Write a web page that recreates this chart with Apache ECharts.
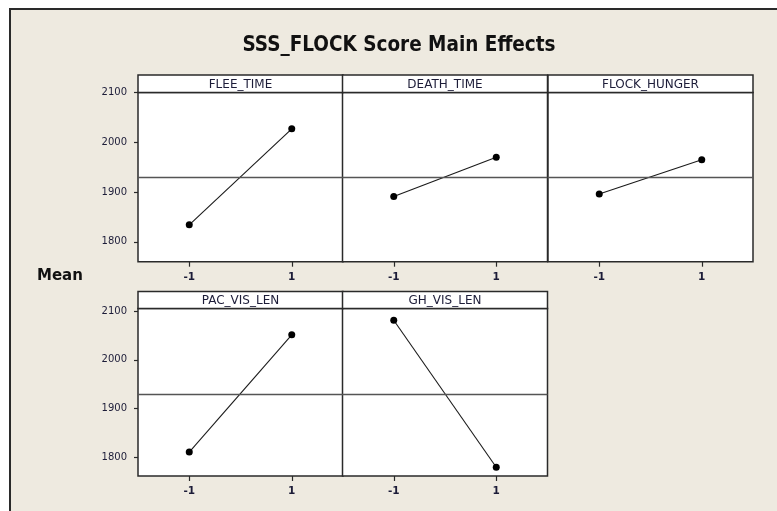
<!DOCTYPE html>
<html>
<head>
<meta charset="utf-8">
<script src="https://cdn.jsdelivr.net/npm/echarts@6/dist/echarts.min.js"></script>
<style>
  html, body { margin: 0; padding: 0; background: #ffffff; }
  #wrap { position: relative; width: 777px; height: 511px; overflow: hidden; }
  #frame { position: absolute; left: 9px; top: 8px; width: 800px; height: 540px;
           background: #eeeae0; border: 2px solid #2a2a2a; }
  #chart { position: absolute; left: 0; top: 0; width: 777px; height: 511px; }
</style>
</head>
<body>
<div id="wrap">
  <div id="frame"></div>
  <div id="chart"></div>
</div>
<script>
// values
const categories = ['-1', '1']
const factors = ['FLEE_TIME', 'DEATH_TIME', 'FLOCK_HUNGER', 'PAC_VIS_LEN', 'GH_VIS_LEN']
const fleeTime = [1834, 2027]
const deathTime = [1891, 1970]
const flockHunger = [1896, 1965]
const pacVisLen = [1811, 2051]
const ghVisLen = [2081, 1780]
const grandMean = 1930
const yTicks = [1800, 1900, 2000, 2100]

const means = [fleeTime, deathTime, flockHunger, pacVisLen, ghVisLen]

// panel layout
const colX = [138, 342.5, 548]
const panelW = 205
const rows = [
  { head: 75, top: 92.5, bottom: 261.7, min: 1760, max: 2100 },
  { head: 291.5, top: 308.5, bottom: 476, min: 1762, max: 2105 }
]
const slots = [[0, 0], [0, 1], [0, 2], [1, 0], [1, 1]]

const textCol = '#1c1c38'
const font = 'DejaVu Sans, Verdana, sans-serif'

const grids = [], xAxes = [], yAxes = [], series = [], graphics = []

slots.forEach(([r, c], i) => {
  const row = rows[r]
  const x = colX[c]
  grids.push({
    left: x, top: row.top, width: panelW, height: row.bottom - row.top,
    show: true, backgroundColor: '#ffffff', borderColor: '#2a2a2a', borderWidth: 1.5,
    containLabel: false
  })
  xAxes.push({
    type: 'category', gridIndex: i, data: categories, boundaryGap: true,
    axisLine: { show: false },
    axisTick: { show: true, alignWithLabel: true, length: 5, lineStyle: { color: '#2a2a2a', width: 1.2 } },
    axisLabel: { color: textCol, fontSize: 10.5, fontWeight: 'bold', fontFamily: font, margin: 10 },
    splitLine: { show: false }
  })
  const first = c === 0
  yAxes.push({
    type: 'value', gridIndex: i, min: row.min, max: row.max,
    show: first,
    axisLine: { show: false },
    axisTick: { show: first, length: 4, customValues: yTicks, lineStyle: { color: '#2a2a2a', width: 1.2 } },
    axisLabel: { show: first, customValues: yTicks, formatter: v => String(v), color: textCol, fontSize: 10, fontFamily: font, margin: 11 },
    splitLine: { show: false }
  })
  series.push({
    type: 'line', xAxisIndex: i, yAxisIndex: i, data: means[i],
    symbol: 'circle', symbolSize: 7,
    itemStyle: { color: '#000000' },
    lineStyle: { color: '#1a1a1a', width: 1.1 },
    markLine: {
      silent: true, symbol: 'none', label: { show: false },
      lineStyle: { color: '#555555', width: 1.3, type: 'solid' },
      data: [{ yAxis: grandMean }]
    },
    z: 3
  })
  // header strip with factor name
  graphics.push({
    type: 'rect', shape: { x: x, y: row.head, width: panelW, height: row.top - row.head },
    style: { fill: '#ffffff', stroke: '#2a2a2a', lineWidth: 1.5 }, z: 10
  })
  graphics.push({
    type: 'text', x: x + panelW / 2, y: (row.head + row.top) / 2 + 1,
    style: { text: factors[i], fill: textCol, font: '12px ' + font, textAlign: 'center', textVerticalAlign: 'middle' },
    z: 11
  })
})

graphics.push({
  type: 'text', x: 399, y: 46,
  style: { text: 'SSS_FLOCK Score Main Effects', fill: '#111111', font: 'bold 20.5px DejaVu Sans Condensed, DejaVu Sans, sans-serif',
           textAlign: 'center', textVerticalAlign: 'middle' }
})
graphics.push({
  type: 'text', x: 37, y: 276,
  style: { text: 'Mean', fill: '#111111', font: 'bold 15px ' + font, textAlign: 'left', textVerticalAlign: 'middle' }
})

const chart = echarts.init(document.getElementById('chart'), null, { renderer: 'canvas' })
chart.setOption({
  backgroundColor: 'transparent',
  animation: false,
  grid: grids,
  xAxis: xAxes,
  yAxis: yAxes,
  series: series,
  graphic: graphics
})
</script>
</body>
</html>
